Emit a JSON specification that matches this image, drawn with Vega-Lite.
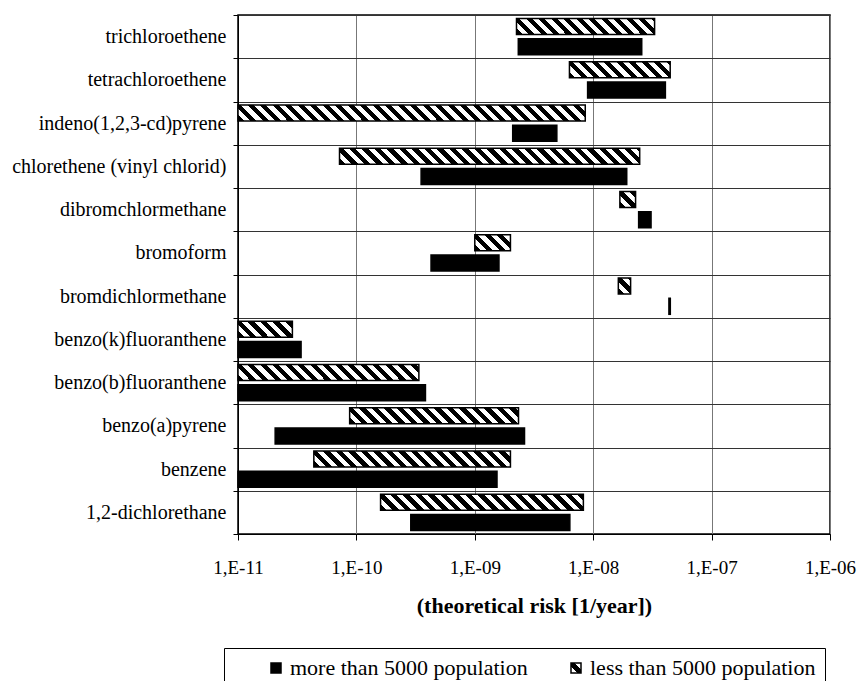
{
  "$schema": "https://vega.github.io/schema/vega-lite/v6.json",
  "width": 592,
  "height": 519,
  "autosize": "none",
  "padding": {"left": 238, "top": 15, "right": 29, "bottom": 147},
  "background": "white",
  "params": [
    {"name": "hatchStops", "value": [
      {"offset":0,"color":"#000"},{"offset":0.0167,"color":"#000"},{"offset":0.0167,"color":"#fff"},{"offset":0.0333,"color":"#fff"},
      {"offset":0.0333,"color":"#000"},{"offset":0.05,"color":"#000"},{"offset":0.05,"color":"#fff"},{"offset":0.0667,"color":"#fff"},
      {"offset":0.0667,"color":"#000"},{"offset":0.0833,"color":"#000"},{"offset":0.0833,"color":"#fff"},{"offset":0.1,"color":"#fff"},
      {"offset":0.1,"color":"#000"},{"offset":0.1167,"color":"#000"},{"offset":0.1167,"color":"#fff"},{"offset":0.1333,"color":"#fff"},
      {"offset":0.1333,"color":"#000"},{"offset":0.15,"color":"#000"},{"offset":0.15,"color":"#fff"},{"offset":0.1667,"color":"#fff"},
      {"offset":0.1667,"color":"#000"},{"offset":0.1833,"color":"#000"},{"offset":0.1833,"color":"#fff"},{"offset":0.2,"color":"#fff"},
      {"offset":0.2,"color":"#000"},{"offset":0.2167,"color":"#000"},{"offset":0.2167,"color":"#fff"},{"offset":0.2333,"color":"#fff"},
      {"offset":0.2333,"color":"#000"},{"offset":0.25,"color":"#000"},{"offset":0.25,"color":"#fff"},{"offset":0.2667,"color":"#fff"},
      {"offset":0.2667,"color":"#000"},{"offset":0.2833,"color":"#000"},{"offset":0.2833,"color":"#fff"},{"offset":0.3,"color":"#fff"},
      {"offset":0.3,"color":"#000"},{"offset":0.3167,"color":"#000"},{"offset":0.3167,"color":"#fff"},{"offset":0.3333,"color":"#fff"},
      {"offset":0.3333,"color":"#000"},{"offset":0.35,"color":"#000"},{"offset":0.35,"color":"#fff"},{"offset":0.3667,"color":"#fff"},
      {"offset":0.3667,"color":"#000"},{"offset":0.3833,"color":"#000"},{"offset":0.3833,"color":"#fff"},{"offset":0.4,"color":"#fff"},
      {"offset":0.4,"color":"#000"},{"offset":0.4167,"color":"#000"},{"offset":0.4167,"color":"#fff"},{"offset":0.4333,"color":"#fff"},
      {"offset":0.4333,"color":"#000"},{"offset":0.45,"color":"#000"},{"offset":0.45,"color":"#fff"},{"offset":0.4667,"color":"#fff"},
      {"offset":0.4667,"color":"#000"},{"offset":0.4833,"color":"#000"},{"offset":0.4833,"color":"#fff"},{"offset":0.5,"color":"#fff"},
      {"offset":0.5,"color":"#000"},{"offset":0.5167,"color":"#000"},{"offset":0.5167,"color":"#fff"},{"offset":0.5333,"color":"#fff"},
      {"offset":0.5333,"color":"#000"},{"offset":0.55,"color":"#000"},{"offset":0.55,"color":"#fff"},{"offset":0.5667,"color":"#fff"},
      {"offset":0.5667,"color":"#000"},{"offset":0.5833,"color":"#000"},{"offset":0.5833,"color":"#fff"},{"offset":0.6,"color":"#fff"},
      {"offset":0.6,"color":"#000"},{"offset":0.6167,"color":"#000"},{"offset":0.6167,"color":"#fff"},{"offset":0.6333,"color":"#fff"},
      {"offset":0.6333,"color":"#000"},{"offset":0.65,"color":"#000"},{"offset":0.65,"color":"#fff"},{"offset":0.6667,"color":"#fff"},
      {"offset":0.6667,"color":"#000"},{"offset":0.6833,"color":"#000"},{"offset":0.6833,"color":"#fff"},{"offset":0.7,"color":"#fff"},
      {"offset":0.7,"color":"#000"},{"offset":0.7167,"color":"#000"},{"offset":0.7167,"color":"#fff"},{"offset":0.7333,"color":"#fff"},
      {"offset":0.7333,"color":"#000"},{"offset":0.75,"color":"#000"},{"offset":0.75,"color":"#fff"},{"offset":0.7667,"color":"#fff"},
      {"offset":0.7667,"color":"#000"},{"offset":0.7833,"color":"#000"},{"offset":0.7833,"color":"#fff"},{"offset":0.8,"color":"#fff"},
      {"offset":0.8,"color":"#000"},{"offset":0.8167,"color":"#000"},{"offset":0.8167,"color":"#fff"},{"offset":0.8333,"color":"#fff"},
      {"offset":0.8333,"color":"#000"},{"offset":0.85,"color":"#000"},{"offset":0.85,"color":"#fff"},{"offset":0.8667,"color":"#fff"},
      {"offset":0.8667,"color":"#000"},{"offset":0.8833,"color":"#000"},{"offset":0.8833,"color":"#fff"},{"offset":0.9,"color":"#fff"},
      {"offset":0.9,"color":"#000"},{"offset":0.9167,"color":"#000"},{"offset":0.9167,"color":"#fff"},{"offset":0.9333,"color":"#fff"},
      {"offset":0.9333,"color":"#000"},{"offset":0.95,"color":"#000"},{"offset":0.95,"color":"#fff"},{"offset":0.9667,"color":"#fff"},
      {"offset":0.9667,"color":"#000"},{"offset":0.9833,"color":"#000"},{"offset":0.9833,"color":"#fff"},{"offset":1,"color":"#fff"}
    ]}
  ],
  "data": {"values": [
    {"chem": "trichloroethene", "series": "less than 5000 population", "lo": 2.25e-9, "hi": 3.3e-8},
    {"chem": "trichloroethene", "series": "more than 5000 population", "lo": 2.33e-9, "hi": 2.57e-8},
    {"chem": "tetrachloroethene", "series": "less than 5000 population", "lo": 6.3e-9, "hi": 4.47e-8},
    {"chem": "tetrachloroethene", "series": "more than 5000 population", "lo": 8.97e-9, "hi": 4.07e-8},
    {"chem": "indeno(1,2,3-cd)pyrene", "series": "less than 5000 population", "lo": 1e-11, "hi": 8.57e-9},
    {"chem": "indeno(1,2,3-cd)pyrene", "series": "more than 5000 population", "lo": 2.09e-9, "hi": 4.93e-9},
    {"chem": "chlorethene (vinyl chlorid)", "series": "less than 5000 population", "lo": 7.2e-11, "hi": 2.47e-8},
    {"chem": "chlorethene (vinyl chlorid)", "series": "more than 5000 population", "lo": 3.52e-10, "hi": 1.92e-8},
    {"chem": "dibromchlormethane", "series": "less than 5000 population", "lo": 1.68e-8, "hi": 2.28e-8},
    {"chem": "dibromchlormethane", "series": "more than 5000 population", "lo": 2.42e-8, "hi": 3.08e-8},
    {"chem": "bromoform", "series": "less than 5000 population", "lo": 1.0e-9, "hi": 2.0e-9},
    {"chem": "bromoform", "series": "more than 5000 population", "lo": 4.27e-10, "hi": 1.6e-9},
    {"chem": "bromdichlormethane", "series": "less than 5000 population", "lo": 1.63e-8, "hi": 2.07e-8},
    {"chem": "bromdichlormethane", "series": "more than 5000 population", "lo": 4.36e-8, "hi": 4.48e-8},
    {"chem": "benzo(k)fluoranthene", "series": "less than 5000 population", "lo": 1e-11, "hi": 2.88e-11},
    {"chem": "benzo(k)fluoranthene", "series": "more than 5000 population", "lo": 1e-11, "hi": 3.41e-11},
    {"chem": "benzo(b)fluoranthene", "series": "less than 5000 population", "lo": 1e-11, "hi": 3.37e-10},
    {"chem": "benzo(b)fluoranthene", "series": "more than 5000 population", "lo": 1e-11, "hi": 3.83e-10},
    {"chem": "benzo(a)pyrene", "series": "less than 5000 population", "lo": 8.77e-11, "hi": 2.34e-9},
    {"chem": "benzo(a)pyrene", "series": "more than 5000 population", "lo": 2.06e-11, "hi": 2.63e-9},
    {"chem": "benzene", "series": "less than 5000 population", "lo": 4.37e-11, "hi": 2.0e-9},
    {"chem": "benzene", "series": "more than 5000 population", "lo": 1e-11, "hi": 1.54e-9},
    {"chem": "1,2-dichlorethane", "series": "less than 5000 population", "lo": 1.6e-10, "hi": 8.26e-9},
    {"chem": "1,2-dichlorethane", "series": "more than 5000 population", "lo": 2.88e-10, "hi": 6.35e-9}
  ]},
  "mark": {
    "type": "bar",
    "strokeWidth": 1.5,
    "fill": {"expr": "(datum.series || datum.value) === 'more than 5000 population' ? '#000' : (datum.hi ? {gradient: 'linear', x1: 0, y1: 1, x2: log(datum.hi/datum.lo)*0.137121/(pow(log(datum.hi/datum.lo)*0.137121,2)+0.0018204), y2: 1-0.042667/(pow(log(datum.hi/datum.lo)*0.137121,2)+0.0018204), stops: hatchStops} : {gradient: 'linear', x1: 1, y1: 0, x2: 0, y2: 1, stops: [{offset: 0, color: '#fff'}, {offset: 0.33, color: '#fff'}, {offset: 0.33, color: '#000'}, {offset: 0.67, color: '#000'}, {offset: 0.67, color: '#fff'}, {offset: 1, color: '#fff'}]})"}
  },
  "encoding": {
    "y": {
      "field": "chem", "type": "nominal",
      "sort": ["trichloroethene", "tetrachloroethene", "indeno(1,2,3-cd)pyrene", "chlorethene (vinyl chlorid)", "dibromchlormethane", "bromoform", "bromdichlormethane", "benzo(k)fluoranthene", "benzo(b)fluoranthene", "benzo(a)pyrene", "benzene", "1,2-dichlorethane"],
      "scale": {"paddingInner": 0, "paddingOuter": 0},
      "axis": {"title": null, "tickBand": "extent", "grid": true, "gridColor": "#333", "gridWidth": 1, "tickSize": 5, "tickColor": "#000", "domainColor": "#000", "labelPadding": 7, "labelFont": "Liberation Serif, Times New Roman, DejaVu Serif, serif", "labelFontSize": 20, "labelColor": "#000", "labelLimit": 400}
    },
    "yOffset": {
      "field": "series", "type": "nominal",
      "sort": ["less than 5000 population", "more than 5000 population"],
      "scale": {"paddingInner": 0.21, "paddingOuter": 0.17}
    },
    "x": {
      "field": "lo", "type": "quantitative",
      "scale": {"type": "log", "domain": [1e-11, 1e-6], "nice": false},
      "axis": {"title": "(theoretical risk [1/year])", "values": [1e-11, 1e-10, 1e-9, 1e-8, 1e-7, 1e-6],
        "labelExpr": "'1,E-' + (round(-log(datum.value)/LN10) < 10 ? '0' : '') + round(-log(datum.value)/LN10)",
        "grid": true, "gridColor": "#777", "gridWidth": 1, "tickSize": 6, "tickColor": "#000", "domainColor": "#000",
        "labelPadding": 18, "labelFlush": false, "labelOverlap": false, "labelFont": "Liberation Serif, Times New Roman, DejaVu Serif, serif", "labelFontSize": 19, "labelColor": "#000",
        "titleFont": "Liberation Serif, Times New Roman, DejaVu Serif, serif", "titleFontSize": 22, "titleFontWeight": "bold", "titleColor": "#000", "titlePadding": 18}
    },
    "x2": {"field": "hi"},
    "stroke": {
      "field": "series", "type": "nominal",
      "scale": {"domain": ["more than 5000 population", "less than 5000 population"], "range": ["#000", "#000"]},
      "legend": {
        "orient": "none", "legendX": -14, "legendY": 633, "direction": "horizontal", "title": null,
        "strokeColor": "#000", "padding": 9, "symbolType": "square", "symbolSize": 100, "symbolOffset": 32, "symbolStrokeWidth": 1.5,
        "labelOffset": 3, "columnPadding": 5, "labelFont": "Liberation Serif, Times New Roman, DejaVu Serif, serif", "labelFontSize": 22, "labelColor": "#000", "labelLimit": 400
      }
    }
  },
  "config": {
    "view": {"stroke": "#000", "strokeWidth": 1.5}
  }
}
